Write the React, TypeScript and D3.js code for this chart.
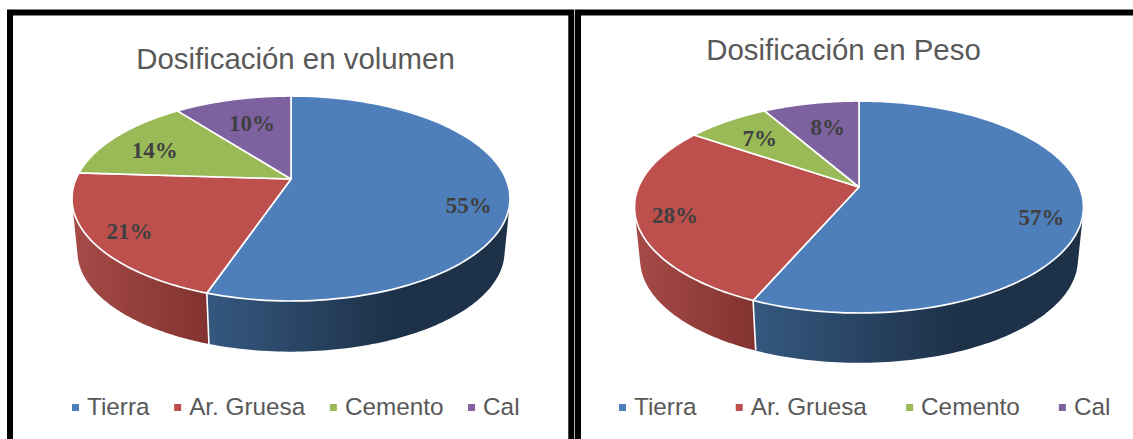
import * as d3 from 'd3';
import { useEffect, useRef } from 'react';

const categories = ['Tierra', 'Ar. Gruesa', 'Cemento', 'Cal'];
const volumeValues = [55.2, 20.8, 13.6, 10.4];
const weightValues = [56.5, 28, 7.2, 8.3];
const colors = ['#4f7fba', '#bd4f4c', '#9aba58', '#7e62a0'];
// wall shading, left to right
const wallColors = [
    ['#35587f', '#1d3149'],
    ['#a64b48', '#823230'],
    ['#7d9647', '#5d7034'],
    ['#5f4a7a', '#4c3a62'],
];
// nudges of the percentage labels from the slice middle
const volumeLabelShift = [[17, 14], [-18, 8], [-8, 2], [5, 4]];
const weightLabelShift = [[18, 14], [-21, 6], [-1, 0], [5, 3]];

const panels = [
    { title: 'Dosificación en volumen', values: volumeValues, labelShift: volumeLabelShift, cx: 291, cy: 179, rx: 219, up: 83, down: 122, depthY: 53.7, titleX: 295.5, titleY: 69, legendX: 72, legendGap: 24.6, frameX: 10, frameRight: 571.3 },
    { title: 'Dosificación en Peso', values: weightValues, labelShift: weightLabelShift, cx: 859, cy: 187, rx: 224.5, up: 86, down: 126, depthY: 53, titleX: 843.5, titleY: 60, legendX: 619, legendGap: 39.2, frameX: 578, frameRight: 1138 },
];

const width = 1133;
const height = 439;
const wallShrink = 0.975;

type Panel = typeof panels[number];

function drawPanel(svg: any, panel: Panel, index: number) {
    const q = (panel.down - panel.up) / (panel.down + panel.up);
    const bY = panel.down * (1 - q);
    const aX = panel.rx * Math.sqrt(1 - q * q);

    // pie angle (clockwise from the top) to a point on the tilted disc
    const project = (angle: number, r = 1): [number, number] => {
        const u = Math.sin(angle) * r;
        const v = -Math.cos(angle) * r;
        const w = 1 - q * v;
        return [panel.cx + (aX * u) / w, panel.cy + (bY * v) / w];
    };
    const lower = (angle: number): [number, number] => {
        const [x, y] = project(angle);
        return [panel.cx + (x - panel.cx) * wallShrink, panel.cy + panel.depthY + (y - panel.cy) * wallShrink];
    };

    const pie = d3.pie<number>().value(d => d).sort(null);
    const arcs = pie(panel.values);
    const line = d3.line();
    const sample = (a0: number, a1: number) => d3.range(0, 121).map(i => a0 + ((a1 - a0) * i) / 120);

    const defs = svg.append('defs');
    const wallStart = Math.PI * 0.35;
    const wallEnd = Math.PI * 1.65;
    const wallGroup = svg.append('g');

    arcs.forEach((d, i) => {
        const a0 = Math.max(d.startAngle, wallStart);
        const a1 = Math.min(d.endAngle, wallEnd);
        if (a1 <= a0) return;
        const angles = sample(a0, a1);
        // one small quad per step, so the wall also covers the silhouette at the sides.
        // all wound the same way or nonzero fill cancels them where they overlap
        const quads = d3.pairs(angles).map(([s, e]) => {
            const quad = [project(s), project(e), lower(e), lower(s)];
            if (d3.polygonArea(quad) < 0) quad.reverse();
            return line(quad) + 'Z';
        });
        const xs = angles.flatMap(a => [project(a)[0], lower(a)[0]]);
        const id = `wall-${index}-${i}`;
        const grad = defs.append('linearGradient')
            .attr('id', id)
            .attr('gradientUnits', 'userSpaceOnUse')
            .attr('x1', d3.min(xs))
            .attr('x2', d3.max(xs))
            .attr('y1', 0)
            .attr('y2', 0);
        grad.append('stop').attr('offset', 0).attr('stop-color', wallColors[i][0]);
        grad.append('stop').attr('offset', i === 0 ? 0.62 : 1).attr('stop-color', wallColors[i][1]);
        wallGroup.append('path')
            .attr('d', quads.join(''))
            .attr('fill', `url(#${id})`);
    });

    // white seams on the wall where slices meet
    arcs.slice(1).forEach(d => {
        if (d.startAngle < wallStart || d.startAngle > wallEnd) return;
        wallGroup.append('path')
            .attr('d', line([project(d.startAngle), lower(d.startAngle)]))
            .attr('stroke', '#fff')
            .attr('stroke-width', 1.6)
            .attr('fill', 'none');
    });

    const topGroup = svg.append('g');
    arcs.forEach((d, i) => {
        const rim = sample(d.startAngle, d.endAngle).map(a => project(a));
        topGroup.append('path')
            .attr('d', line([[panel.cx, panel.cy], ...rim]) + 'Z')
            .attr('fill', colors[i])
            .attr('stroke', '#fff')
            .attr('stroke-width', 1.7)
            .attr('stroke-linejoin', 'round');
    });

    // percentage labels
    arcs.forEach((d, i) => {
        const mid = (d.startAngle + d.endAngle) / 2;
        const [x, y] = project(mid, i < 2 ? 0.74 : 0.72);
        svg.append('text')
            .attr('x', x + panel.labelShift[i][0])
            .attr('y', y + panel.labelShift[i][1])
            .attr('dy', '0.35em')
            .attr('text-anchor', 'middle')
            .attr('font-family', '"Liberation Serif", serif')
            .attr('font-weight', 700)
            .attr('font-size', 23)
            .attr('fill', '#404040')
            .text(`${Math.round(d.value)}%`);
    });

    svg.append('text')
        .attr('x', panel.titleX)
        .attr('y', panel.titleY)
        .attr('text-anchor', 'middle')
        .attr('font-family', '"Liberation Sans", Arial, sans-serif')
        .attr('font-size', 29.4)
        .attr('fill', '#595959')
        .text(panel.title);

    // legend, laid out from the measured text widths
    let legendX = panel.legendX;
    categories.forEach((name, i) => {
        svg.append('rect')
            .attr('x', legendX)
            .attr('y', 404)
            .attr('width', 7)
            .attr('height', 7)
            .attr('fill', colors[i]);
        const label = svg.append('text')
            .attr('x', legendX + 15)
            .attr('y', 415)
            .attr('font-family', '"Liberation Sans", Arial, sans-serif')
            .attr('font-size', 24.3)
            .attr('fill', '#595959')
            .text(name);
        legendX += 15 + label.node().getComputedTextLength() + panel.legendGap;
    });

    svg.append('path')
        .attr('d', `M${panel.frameX},${height + 5}V12.5H${panel.frameRight}V${height + 5}`)
        .attr('fill', 'none')
        .attr('stroke', '#000')
        .attr('stroke-width', 6);
}

const App = () => {
    const ref = useRef<SVGSVGElement | null>(null);

    useEffect(() => {
        const svg = d3.select(ref.current);
        svg.selectAll('*').remove();
        panels.forEach((panel, i) => drawPanel(svg, panel, i));
    }, []);

    return <svg ref={ref} width={width} height={height} style={{ position: 'absolute', left: 0, top: 0, background: '#fff' }} />;
};

export default App;
